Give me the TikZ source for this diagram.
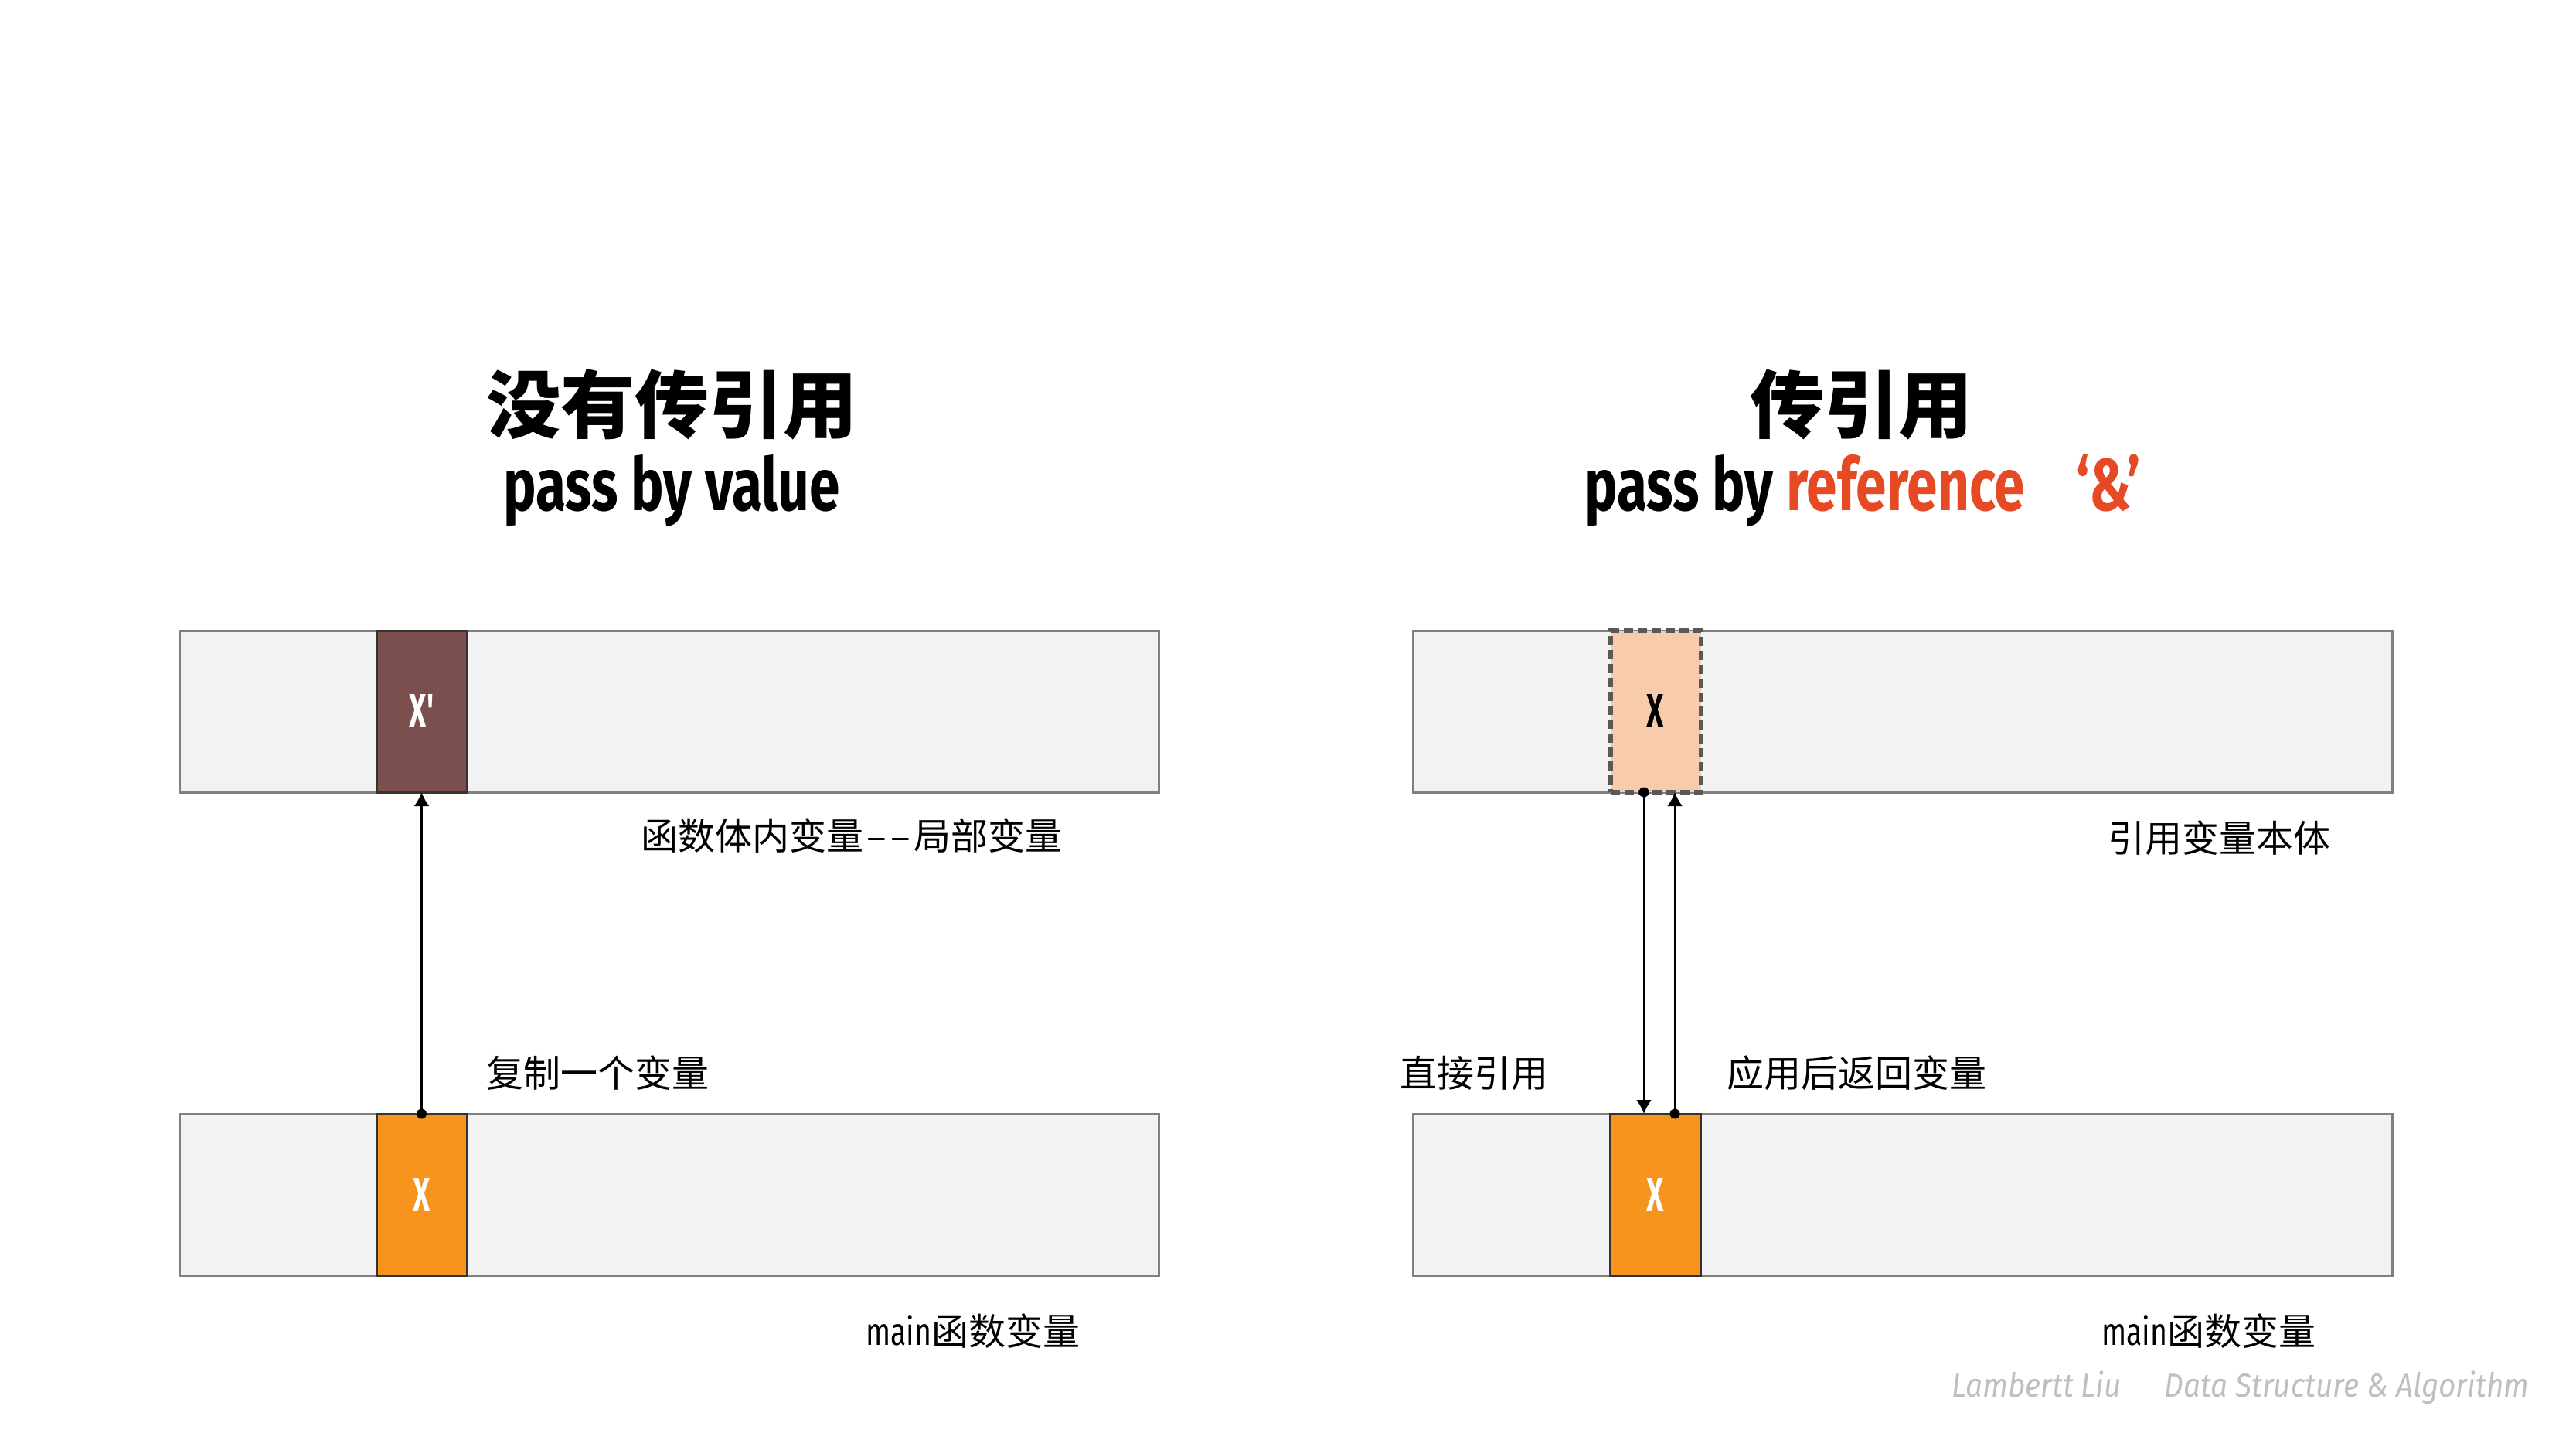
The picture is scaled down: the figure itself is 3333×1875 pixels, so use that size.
\documentclass[tikz,border=0pt]{standalone}
\usepackage{fontspec}
\usetikzlibrary{arrows.meta}
\newfontfamily\cjk{Noto Sans CJK SC}
\newfontfamily\cond{Fira Sans}[FakeStretch=0.75]
\newfontfamily\xcond{Fira Sans}[FakeStretch=0.62]
\newfontfamily\footfont{Fira Sans}[FakeStretch=0.9]
\definecolor{boxgray}{HTML}{F2F2F2}
\definecolor{boxline}{HTML}{808080}
\definecolor{cellline}{HTML}{333333}
\definecolor{darkcell}{HTML}{7A4F4E}
\definecolor{orangecell}{HTML}{F7941D}
\definecolor{peachcell}{HTML}{F8CBAD}
\definecolor{dashgray}{HTML}{595959}
\definecolor{titlered}{HTML}{E64A24}
\definecolor{footgray}{HTML}{BFBFBF}
\tikzset{
  bigbox/.style={draw=boxline, line width=3pt, fill=boxgray, minimum width=1267pt, minimum height=209pt, inner sep=0pt, outer sep=0pt},
  cell/.style={minimum width=117pt, minimum height=209pt, inner sep=0pt, outer sep=0pt, line width=3pt, font=\xcond\bfseries\fontsize{62}{70}\selectfont},
  darkbox/.style={cell, draw=cellline, fill=darkcell, text=white},
  orangebox/.style={cell, draw=cellline, fill=orangecell, text=white},
  peachbox/.style={cell, draw=dashgray, fill=peachcell, text=black, line width=6pt, dash pattern=on 12pt off 6pt},
  label/.style={anchor=west, inner sep=0pt, font=\cjk\fontsize{48}{56}\selectfont},
  titlecn/.style={inner sep=0pt, font=\cjk\bfseries\fontsize{96}{110}\selectfont},
  titleen/.style={anchor=base, inner sep=0pt, font=\cond\bfseries\fontsize{95}{110}\selectfont},
  conn/.style={line width=2.5pt, draw=black},
  tipconn/.style={conn, -{Latex[length=18pt,width=20pt]}},
  dot/.style={circle, fill=black, inner sep=0pt, minimum size=13pt},
}
\newcommand{\mainword}{{\cond\fontsize{50}{56}\selectfont main}}
\begin{document}
\begin{tikzpicture}[x=1pt,y=-1pt]
\useasboundingbox[fill=white] (0,0) rectangle (3333,1875);

% titles
\node[titlecn] (t1cn) at (869,523) {没有传引用};
\node[titleen] (t1en) at (869,660) {pass by value};
\node[titlecn] (t2cn) at (2408,523) {传引用};
\node[titleen] (t2en) at (2410,660) {pass by \textcolor{titlered}{reference\hspace{0.7em}‘\&’}};

% left side
\node[bigbox] (ltop) at (865.5,920.5) {};
\node[bigbox] (lbot) at (865.5,1545.5) {};
\node[darkbox] (lxp) at (545.5,920.5) {X'};
\node[orangebox] (lxb) at (545.5,1545.5) {X};

% right side
\node[bigbox] (rtop) at (2461.5,920.5) {};
\node[bigbox] (rbot) at (2461.5,1545.5) {};
\node[peachbox] (rxt) at (2142,920.5) {X};
\node[orangebox] (rxb) at (2142,1545.5) {X};

% connectors
\draw[tipconn] (lxb.north) -- (lxp.south);
\node[dot] (d1) at (lxb.north) {};

\coordinate (rdA) at ([xshift=-15pt]rxt.south);
\coordinate (rdB) at ([xshift=-15pt]rxb.north);
\coordinate (ruA) at ([xshift=25pt]rxb.north);
\coordinate (ruB) at ([xshift=25pt]rxt.south);
\draw[tipconn] (rdA) -- (rdB);
\node[dot] (d2) at (rdA) {};
\draw[tipconn] (ruA) -- (ruB);
\node[dot] (d3) at (ruA) {};

% labels
\node[label] (l1) at (829,1081) {函数体内变量\hspace{4pt}\textendash\hspace{6pt}\textendash\hspace{4pt}局部变量};
\node[label] (l2) at (629,1388) {复制一个变量};
\node[label] (l3) at (1120,1722) {\mainword 函数变量};
\node[label] (r1) at (2727,1084) {引用变量本体};
\node[label] (r2) at (1811,1388) {直接引用};
\node[label] (r3) at (2234,1388) {应用后返回变量};
\node[label] (r4) at (2719,1722) {\mainword 函数变量};

% footer
\node[anchor=base west, inner sep=0pt, text=footgray, font=\footfont\itshape\fontsize{43}{50}\selectfont] (foot) at (2525,1807) {Lambertt Liu\hspace{1.3em}Data Structure \& Algorithm};
\end{tikzpicture}
\end{document}
